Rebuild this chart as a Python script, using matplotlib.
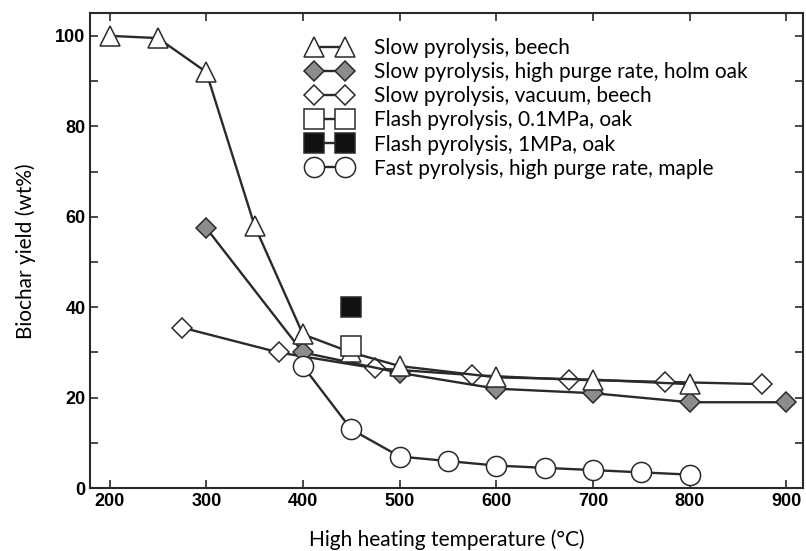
import matplotlib.pyplot as plt
from matplotlib.ticker import MultipleLocator

# Slow pyrolysis, beech
beech_t = [200, 250, 300, 350, 400, 450, 500, 600, 700, 800]
beech_y = [100, 99.5, 92, 58, 34, 30, 27, 24.5, 24, 23]

# Slow pyrolysis, high purge rate, holm oak
holm_t = [300, 400, 500, 600, 700, 800, 900]
holm_y = [57.5, 30, 25.5, 22, 21, 19, 19]

# Slow pyrolysis, vacuum, beech
vac_t = [275, 375, 475, 575, 675, 775, 875]
vac_y = [35.5, 30, 26.5, 25, 24, 23.5, 23]

# Flash pyrolysis, 0.1 MPa / 1 MPa, oak
flash01_t = [450]
flash01_y = [31.5]
flash1_t = [450]
flash1_y = [40]

# Fast pyrolysis, high purge rate, maple
maple_t = [400, 450, 500, 550, 600, 650, 700, 750, 800]
maple_y = [27, 13, 7, 6, 5, 4.5, 4, 3.5, 3]

labels = ['Slow pyrolysis, beech',
          'Slow pyrolysis, high purge rate, holm oak',
          'Slow pyrolysis, vacuum, beech',
          'Flash pyrolysis, 0.1MPa, oak',
          'Flash pyrolysis, 1MPa, oak',
          'Fast pyrolysis, high purge rate, maple']

lc = '#2a2a2a'
fig = plt.figure(figsize=(8.06, 5.51), dpi=100)
ax = fig.add_axes([0.112, 0.114, 0.884, 0.862])

kw = dict(color=lc, lw=1.7, mec=lc, mew=1.1)
ax.plot(vac_t, vac_y, marker='D', ms=10.5, mfc='white', label=labels[2], **kw)
ax.plot(holm_t, holm_y, marker='D', ms=10.5, mfc='#8c8c8c', label=labels[1], **kw)
ax.plot(beech_t, beech_y, marker='^', ms=15, mfc='white', label=labels[0], **kw)
ax.plot(maple_t, maple_y, marker='o', ms=14.5, mfc='white', label=labels[5], **kw)
ax.plot(flash01_t, flash01_y, marker='s', ms=14, mfc='white', label=labels[3], **kw)
ax.plot(flash1_t, flash1_y, marker='s', ms=14, mfc='#111111', label=labels[4], **kw)

ax.set_xlim(180, 917)
ax.set_ylim(0, 105)
ax.set_xticks([200, 300, 400, 500, 600, 700, 800, 900])
ax.set_yticks([0, 20, 40, 60, 80, 100])
ax.yaxis.set_minor_locator(MultipleLocator(10))
ax.tick_params(which='both', direction='in', top=True, right=True, color=lc)
ax.tick_params(which='major', length=6, width=1.2)
ax.tick_params(which='minor', length=6, width=1.2)
for t in ax.get_xticklabels() + ax.get_yticklabels():
    t.set_family('Liberation Sans')
    t.set_fontweight('bold')
    t.set_fontsize(13)
for s in ax.spines.values():
    s.set_color(lc)
    s.set_linewidth(1.5)

ax.set_xlabel('High heating temperature (°C)', fontsize=15, family='Lato', labelpad=14)
ax.set_ylabel('Biochar yield (wt%)', fontsize=15, family='Lato', labelpad=14)

handles, labs = ax.get_legend_handles_labels()
order = [labs.index(l) for l in labels]
ax.legend([handles[i] for i in order], labels, loc='upper left',
          bbox_to_anchor=(0.305, 0.948), frameon=False, prop={'family': 'Lato', 'size': 15},
          handlelength=2.1, handletextpad=1.1, labelspacing=0.2, numpoints=2,
          borderaxespad=0, borderpad=0)

fig.savefig('out.png', dpi=100)
